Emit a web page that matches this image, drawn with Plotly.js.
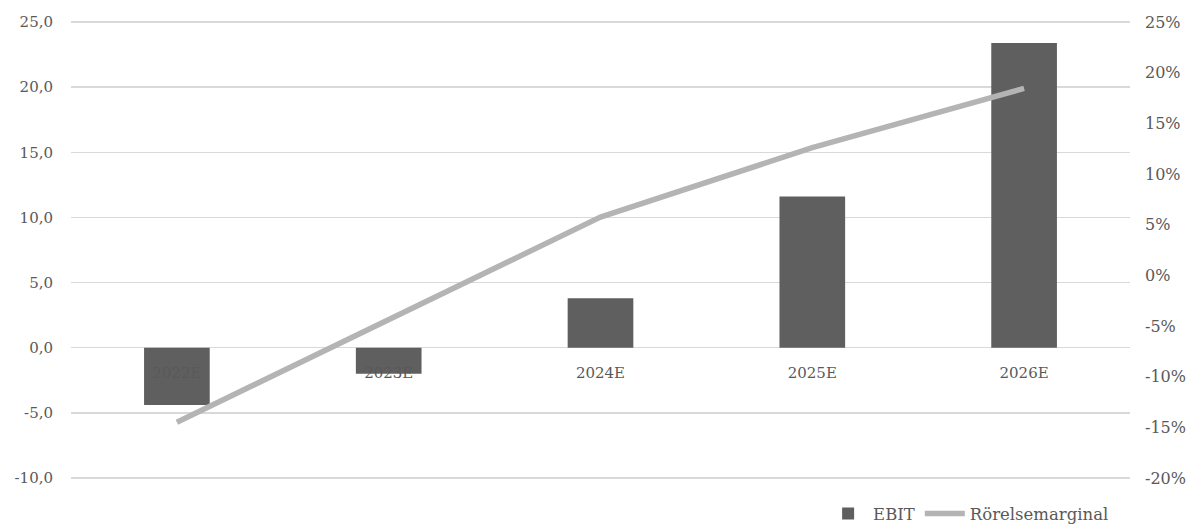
<!DOCTYPE html>
<html>
<head>
<meta charset="utf-8">
<script src="https://cdn.plot.ly/plotly-3.0.1.min.js"></script>
<style>
  html, body { margin: 0; padding: 0; background: #ffffff; }
  #chart { width: 1191px; height: 527px; }
</style>
</head>
<body>
<div id="chart"></div>
<script>
// EBIT (MSEK) and operating margin per forecast year
const years = ['2022E', '2023E', '2024E', '2025E', '2026E'];
const ebit = [-4.4, -2.0, 3.8, 11.6, 23.4];
const margin = [-0.145, -0.043, 0.0575, 0.126, 0.1845];

const leftTicks = [-10, -5, 0, 5, 10, 15, 20, 25];
const leftTickText = ['-10,0', '-5,0', '0,0', '5,0', '10,0', '15,0', '20,0', '25,0'];
const rightTicks = [-0.20, -0.15, -0.10, -0.05, 0, 0.05, 0.10, 0.15, 0.20, 0.25];
const rightTickText = ['-20%', '-15%', '-10%', '-5%', '0%', '5%', '10%', '15%', '20%', '25%'];

const fontFamily = "Georgia, 'DejaVu Serif', serif";
const textColor = '#595959';
const gridColor = '#d9d9d9';

// a hair of padding so the outermost gridlines are drawn inside the plot
const padL = 0.08;
const padR = padL * 45 / 35 / 100;
const leftRange = [-10 - padL, 25 + padL];
const rightRange = [-0.20 - padR, 0.25 + padR];

const traces = [
  {
    type: 'bar',
    name: 'EBIT',
    x: years,
    y: ebit,
    marker: { color: '#5f5f5f' },
    width: 0.31,
    yaxis: 'y',
    hoverinfo: 'skip'
  },
  {
    type: 'scatter',
    mode: 'lines',
    name: 'Rörelsemarginal',
    x: years,
    y: margin,
    line: { color: '#b4b4b4', width: 5.5 },
    yaxis: 'y2',
    hoverinfo: 'skip'
  }
];

const layout = {
  width: 1191,
  height: 527,
  margin: { l: 71, r: 61, t: 21, b: 48 },
  paper_bgcolor: '#ffffff',
  plot_bgcolor: '#ffffff',
  font: { family: fontFamily, size: 15, color: textColor },
  showlegend: true,
  legend: {
    orientation: 'h',
    xref: 'paper',
    x: 0.985,
    xanchor: 'right',
    yref: 'container',
    y: 0.025,
    yanchor: 'middle',
    font: { family: fontFamily, size: 16.5, color: textColor },
    traceorder: 'normal',
    itemwidth: 40
  },
  bargap: 0.69,
  xaxis: {
    type: 'category',
    anchor: 'free',
    position: -leftRange[0] / (leftRange[1] - leftRange[0]),
    showgrid: false,
    showline: false,
    zeroline: false,
    ticks: '',
    ticklabelstandoff: 14,
    tickfont: { family: fontFamily, size: 15, color: textColor }
  },
  yaxis: {
    range: leftRange,
    tickvals: leftTicks,
    ticktext: leftTickText,
    showgrid: true,
    gridcolor: gridColor,
    gridwidth: 1.5,
    zeroline: true,
    zerolinecolor: gridColor,
    zerolinewidth: 1.5,
    showline: false,
    ticks: '',
    ticklabelstandoff: 17,
    tickfont: { family: fontFamily, size: 15, color: textColor }
  },
  yaxis2: {
    overlaying: 'y',
    side: 'right',
    range: rightRange,
    tickvals: rightTicks,
    ticktext: rightTickText,
    showgrid: false,
    zeroline: false,
    showline: false,
    ticks: '',
    ticklabelstandoff: 14,
    tickfont: { family: fontFamily, size: 16, color: textColor }
  }
};

Plotly.newPlot('chart', traces, layout, { displayModeBar: false, staticPlot: true });
</script>
</body>
</html>
